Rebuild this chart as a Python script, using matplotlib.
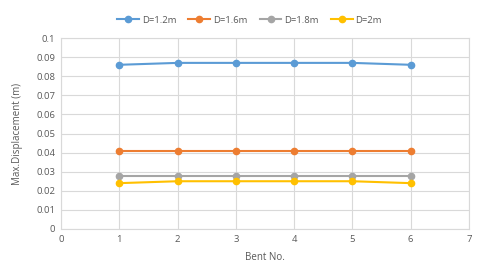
import matplotlib
matplotlib.use("Agg")
import matplotlib.pyplot as plt

bents = [1, 2, 3, 4, 5, 6]
labels = ["D=1.2m", "D=1.6m", "D=1.8m", "D=2m"]
d12 = [0.086, 0.087, 0.087, 0.087, 0.087, 0.086]
d16 = [0.041, 0.041, 0.041, 0.041, 0.041, 0.041]
d18 = [0.028, 0.028, 0.028, 0.028, 0.028, 0.028]
d20 = [0.024, 0.025, 0.025, 0.025, 0.025, 0.024]
colors = ["#5B9BD5", "#ED7D31", "#A5A5A5", "#FFC000"]
xticks = [0, 1, 2, 3, 4, 5, 6, 7]
yticks = [0, 0.01, 0.02, 0.03, 0.04, 0.05, 0.06, 0.07, 0.08, 0.09, 0.1]
ytick_labels = ["0", "0.01", "0.02", "0.03", "0.04", "0.05", "0.06", "0.07", "0.08", "0.09", "0.1"]

plt.rcParams['font.family'] = ['Open Sans', 'DejaVu Sans']
fig = plt.figure(figsize=(4.8, 2.7), dpi=100)
ax = fig.add_axes([0.127, 0.152, 0.85, 0.707])

for ys, lab, c in zip([d12, d16, d18, d20], labels, colors):
    ax.plot(bents, ys, color=c, marker="o", markersize=4.5, linewidth=1.5, label=lab)

ax.set_xlim(0, 7)
ax.set_ylim(0, 0.1)
ax.set_xticks(xticks)
ax.set_yticks(yticks)
ax.set_yticklabels(ytick_labels)
ax.grid(True, color="#D9D9D9", linewidth=0.8)
ax.set_axisbelow(True)
for s in ax.spines.values():
    s.set_color("#D9D9D9")
    s.set_linewidth(0.8)
ax.tick_params(length=0, labelsize=6.8, colors="#595959", pad=4)
ax.set_xlabel("Bent No.", fontsize=7, color="#595959", labelpad=6)
ax.set_ylabel("Max.Displacement (m)", fontsize=7, color="#595959", labelpad=10)

fig.legend(loc="center", bbox_to_anchor=(0.52, 0.925), ncol=4, frameon=False,
           fontsize=6.8, labelcolor="#595959", handlelength=2.3, columnspacing=1.3,
           handletextpad=0.3)

fig.savefig("out.png", dpi=100, facecolor="white")
